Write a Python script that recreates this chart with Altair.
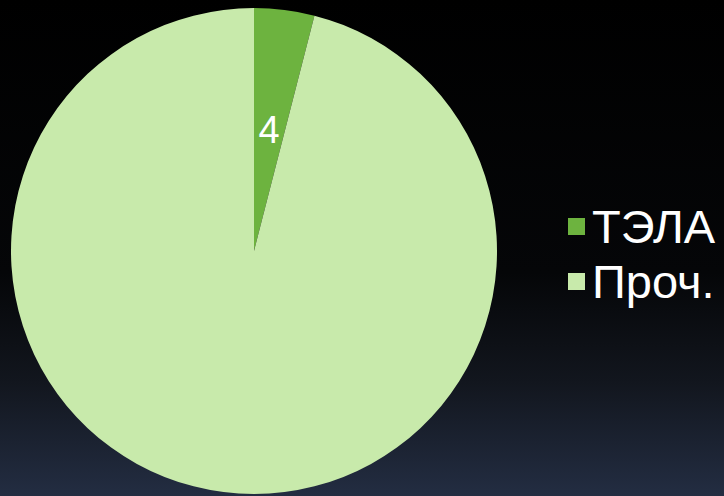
import altair as alt
import pandas as pd

categories = ["ТЭЛА", "Проч."]
values = [4, 96]
labels = ["4", ""]
order_idx = [0, 1]
colors = ["#6db33f", "#c8eaab"]

df = pd.DataFrame({"cat": categories, "value": values, "label": labels, "idx": order_idx})

W, H = 724, 496

bg = alt.Chart(alt.Data(values=[{"a": 1}])).mark_rect(
    color=alt.LinearGradient(
        gradient="linear",
        stops=[
            alt.GradientStop(color="#000000", offset=0),
            alt.GradientStop(color="#050608", offset=0.55),
            alt.GradientStop(color="#12161e", offset=0.77),
            alt.GradientStop(color="#232d42", offset=1),
        ],
        x1=0, x2=0, y1=0, y2=1,
    )
).encode(x=alt.value(0), x2=alt.value(W), y=alt.value(0), y2=alt.value(H))

color_scale = alt.Scale(domain=categories, range=colors)

base = alt.Chart(df).encode(
    theta=alt.Theta("value:Q", stack=True),
    order=alt.Order("idx:Q"),
    x=alt.value(254),
    y=alt.value(251),
)

pie = base.mark_arc(outerRadius=243, strokeWidth=0).encode(
    color=alt.Color("cat:N", scale=color_scale, legend=None)
)

text = base.mark_text(
    radius=120, font="Liberation Sans", fontSize=38, color="white", align="center", baseline="middle"
).encode(text="label:N")

# legend built from the same data through a point scale
leg_y = alt.Y("cat:N", scale=alt.Scale(domain=categories, range=[226.5, 281.5], padding=0), axis=None)

leg_sym = alt.Chart(df).mark_square(size=289, opacity=1, strokeWidth=0).encode(
    x=alt.value(576.5),
    y=leg_y,
    color=alt.Color("cat:N", scale=color_scale, legend=None),
)

leg_txt = alt.Chart(df).mark_text(
    font="Liberation Sans", fontSize=47, color="white", align="left", baseline="middle", dy=2
).encode(
    x=alt.value(592),
    y=leg_y,
    text="cat:N",
)

chart = alt.layer(bg, pie, text, leg_sym, leg_txt).properties(
    width=W, height=H, padding=0, autosize=alt.AutoSizeParams(type="none"),
    background="#000000",
).configure_view(stroke=None)

chart.save("out.html", embed_options={"renderer": "svg", "actions": False})
